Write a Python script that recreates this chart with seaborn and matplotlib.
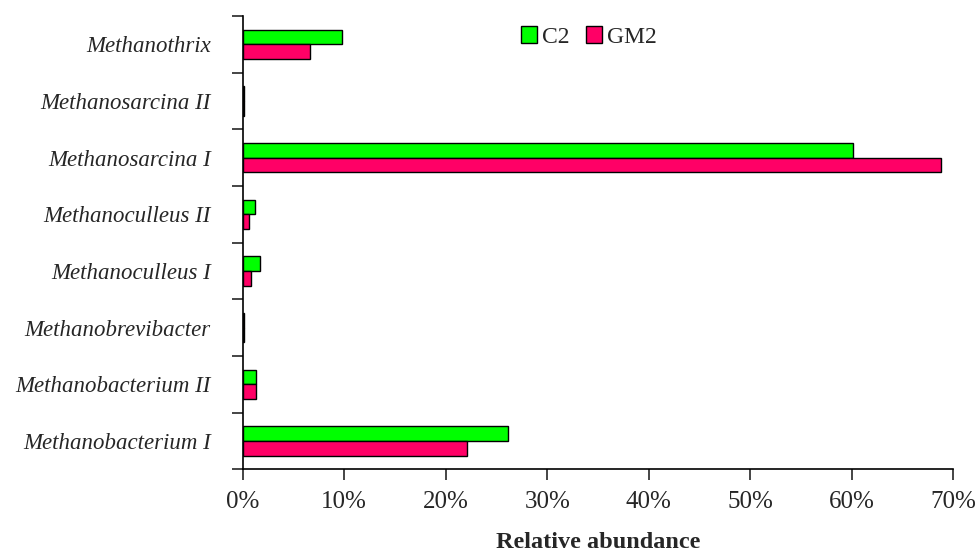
import numpy as np
import pandas as pd
import matplotlib
matplotlib.use('Agg')
import matplotlib.pyplot as plt
import seaborn as sns
from matplotlib.ticker import FixedLocator, PercentFormatter

# Data (relative abundance, %)
genera = ['Methanothrix', 'Methanosarcina II', 'Methanosarcina I', 'Methanoculleus II',
          'Methanoculleus I', 'Methanobrevibacter', 'Methanobacterium II', 'Methanobacterium I']
c2 = [9.8, 0.1, 60.1, 1.2, 1.7, 0.1, 1.3, 26.1]
gm2 = [6.6, 0.1, 68.8, 0.6, 0.8, 0.1, 1.3, 22.1]
samples = ['C2', 'GM2']
colors = ['#00FF00', '#FF0066']

df = pd.DataFrame({
    'genus': genera * 2,
    'sample': ['C2'] * len(genera) + ['GM2'] * len(genera),
    'abundance': c2 + gm2,
})

sns.set_style('white')
plt.rcParams['font.family'] = ['Liberation Serif', 'DejaVu Serif']

fig = plt.figure(figsize=(9.79, 5.54), dpi=100)
ax = fig.add_axes([0.248, 0.153, 0.7255, 0.818])

sns.barplot(data=df, y='genus', x='abundance', hue='sample', order=genera,
            hue_order=samples, palette=colors, orient='h', width=0.52,
            edgecolor='black', linewidth=1, saturation=1, ax=ax)

ax.set_xlim(0, 70)
ax.set_ylim(len(genera) - 0.5, -0.5)
ax.xaxis.set_major_formatter(PercentFormatter(decimals=0))
ax.set_xticks(np.arange(0, 71, 10))

# category boundaries as ticks, labels centred between them
ax.yaxis.set_major_locator(FixedLocator(np.arange(-0.5, len(genera), 1)))
ax.yaxis.set_major_formatter(plt.NullFormatter())
ax.yaxis.set_minor_locator(FixedLocator(np.arange(len(genera))))
ax.set_yticklabels(genera, minor=True, fontstyle='italic', fontsize=16.5)
ax.tick_params(axis='y', which='major', length=8, width=1.2, direction='out', left=True)
ax.tick_params(axis='y', which='minor', length=0, pad=23)
ax.tick_params(axis='x', length=8, width=1.2, direction='out', bottom=True, labelsize=18, pad=8)

for s in ['top', 'right']:
    ax.spines[s].set_visible(False)
for s in ['left', 'bottom']:
    ax.spines[s].set_color('black')
    ax.spines[s].set_linewidth(1.2)

ax.set_ylabel('')
ax.set_xlabel('Relative abundance', fontsize=17.5, fontweight='bold', labelpad=13)

ax.legend(loc='upper center', bbox_to_anchor=(0.487, 1.025), ncol=2, frameon=False,
          fontsize=17, handlelength=0.7, handleheight=0.7, handletextpad=0.2,
          columnspacing=0.7)

fig.savefig('out.png', dpi=100)
